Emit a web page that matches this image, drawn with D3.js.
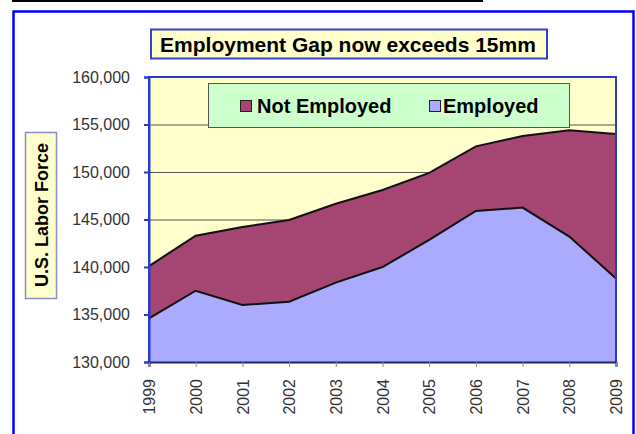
<!DOCTYPE html>
<html>
<head>
<meta charset="utf-8">
<script src="https://cdn.jsdelivr.net/npm/d3@7"></script>
<style>
  body { margin: 0; background: #ffffff; }
  svg { display: block; font-family: "Liberation Sans", Arial, sans-serif; }
</style>
</head>
<body>
<svg id="chart" width="636" height="434"></svg>
<script>
// data (thousands of people)
const years = ["1999","2000","2001","2002","2003","2004","2005","2006","2007","2008","2009"];
const employed    = [134600, 137500, 136000, 136350, 138350, 140000, 142850, 145900, 146250, 143200, 138800];
const notEmployed = [5500, 5800, 8200, 8600, 8300, 8100, 7050, 6800, 7550, 11200, 15200];
const seriesKeys = ["employed", "notEmployed"];
const seriesNames = { notEmployed: "Not Employed", employed: "Employed" };
const COLORS = { notEmployed: "#a44572", employed: "#aaaaff" };
const yTicks = [130000, 135000, 140000, 145000, 150000, 155000, 160000];

const plotLeft = 149, plotRight = 616, plotTop = 77, plotBottom = 362;
const width = plotRight - plotLeft, height = plotBottom - plotTop;

const svg = d3.select("#chart");

// cut-off underline at the very top and the outer blue frame
svg.append("line")
  .attr("x1", 12).attr("x2", 483).attr("y1", 1).attr("y2", 1)
  .attr("stroke", "#000").attr("stroke-width", 2);
svg.append("rect")
  .attr("x", 13.5).attr("y", 11.5).attr("width", 620).attr("height", 440)
  .attr("fill", "#fff").attr("stroke", "#0000ff").attr("stroke-width", 2.5);

// title box
svg.append("rect")
  .attr("x", 151).attr("y", 29.5).attr("width", 396).attr("height", 29)
  .attr("fill", "#ffffcc").attr("stroke", "#3344cc").attr("stroke-width", 2);
svg.append("text")
  .attr("x", 348).attr("y", 51.5)
  .attr("text-anchor", "middle")
  .style("font-size", "21px").style("font-weight", "bold")
  .text("Employment Gap now exceeds 15mm");

// y axis title box
svg.append("rect")
  .attr("x", 25.5).attr("y", 132.5).attr("width", 31).attr("height", 166)
  .attr("fill", "#ffffcc").attr("stroke", "#8c8cd0").attr("stroke-width", 1.5);
svg.append("text")
  .attr("transform", "translate(47.5,215) rotate(-90)")
  .attr("text-anchor", "middle")
  .style("font-size", "18px").style("font-weight", "bold")
  .text("U.S. Labor Force");

const x = d3.scalePoint().domain(years).range([0, width]);
const y = d3.scaleLinear().domain([130000, 160000]).range([height, 0]);

const g = svg.append("g").attr("transform", `translate(${plotLeft},${plotTop})`);

g.append("rect")
  .attr("width", width).attr("height", height)
  .attr("fill", "#ffffcc");

// grid
g.append("g")
  .attr("class", "y-grid")
  .call(d3.axisLeft(y).tickValues(yTicks).tickSize(-width).tickFormat(""))
  .call(s => s.select(".domain").remove())
  .selectAll("line")
  .attr("stroke", "#555").attr("stroke-width", 1);

// stacked areas
const table = years.map((yr, i) => ({ year: yr, employed: employed[i], notEmployed: notEmployed[i] }));
const stacked = d3.stack().keys(seriesKeys)(table);

// employed series starts from 0, clip it to the axis floor
stacked[0].forEach(d => { d[0] = y.domain()[0]; });

const area = d3.area()
  .x(d => x(d.data.year))
  .y0(d => y(d[0]))
  .y1(d => y(d[1]));

g.selectAll("path.area")
  .data(stacked)
  .enter()
  .append("path")
  .attr("class", "area")
  .attr("fill", d => COLORS[d.key])
  .attr("d", area);

const topLine = d3.line().x(d => x(d.data.year)).y(d => y(d[1]));
g.selectAll("path.edge")
  .data(stacked)
  .enter()
  .append("path")
  .attr("class", "edge")
  .attr("fill", "none")
  .attr("stroke", "#111")
  .attr("stroke-width", 2)
  .attr("d", d => topLine(d));

// plot border
g.append("path")
  .attr("d", `M0,${height}V0H${width}V${height}`)
  .attr("fill", "none").attr("stroke", "#2a3ad0").attr("stroke-width", 2);

// y axis
const yAxis = g.append("g")
  .attr("class", "y-axis")
  .call(d3.axisLeft(y).tickValues(yTicks).tickSize(5).tickPadding(14).tickFormat(d3.format(",")));
yAxis.select(".domain").attr("stroke", "#2a3ad0").attr("stroke-width", 2);
yAxis.selectAll("line").attr("stroke", "#2a3ad0").attr("stroke-width", 2);
yAxis.selectAll("text").style("font-size", "16px").attr("fill", "#333");

// x axis
const xAxis = g.append("g")
  .attr("class", "x-axis")
  .attr("transform", `translate(0,${height})`)
  .call(d3.axisBottom(x).tickSize(5).tickPadding(0));
xAxis.select(".domain").attr("stroke", "#22226a").attr("stroke-width", 2);
xAxis.selectAll("line").attr("stroke", "#888");
xAxis.selectAll("text")
  .style("font-size", "16px").attr("fill", "#333")
  .attr("transform", "rotate(-90)")
  .attr("x", -17).attr("y", 0).attr("dy", "0.35em")
  .style("text-anchor", "end");

// legend
const legend = svg.append("g").attr("transform", "translate(208,83)");
legend.append("rect")
  .attr("x", 0.5).attr("y", 0.5).attr("width", 361).attr("height", 44)
  .attr("fill", "#ccffcc").attr("stroke", "#555").attr("stroke-width", 1);
const items = [
  { key: "notEmployed", sx: 32, tx: 49 },
  { key: "employed", sx: 221, tx: 235 }
];
items.forEach(it => {
  legend.append("rect")
    .attr("x", it.sx + 0.5).attr("y", 17.5).attr("width", 11).attr("height", 11)
    .attr("fill", COLORS[it.key]).attr("stroke", "#222").attr("stroke-width", 1);
  legend.append("text")
    .attr("x", it.tx).attr("y", 30)
    .style("font-size", "20px").style("font-weight", "bold")
    .text(seriesNames[it.key]);
});
</script>
</body>
</html>
